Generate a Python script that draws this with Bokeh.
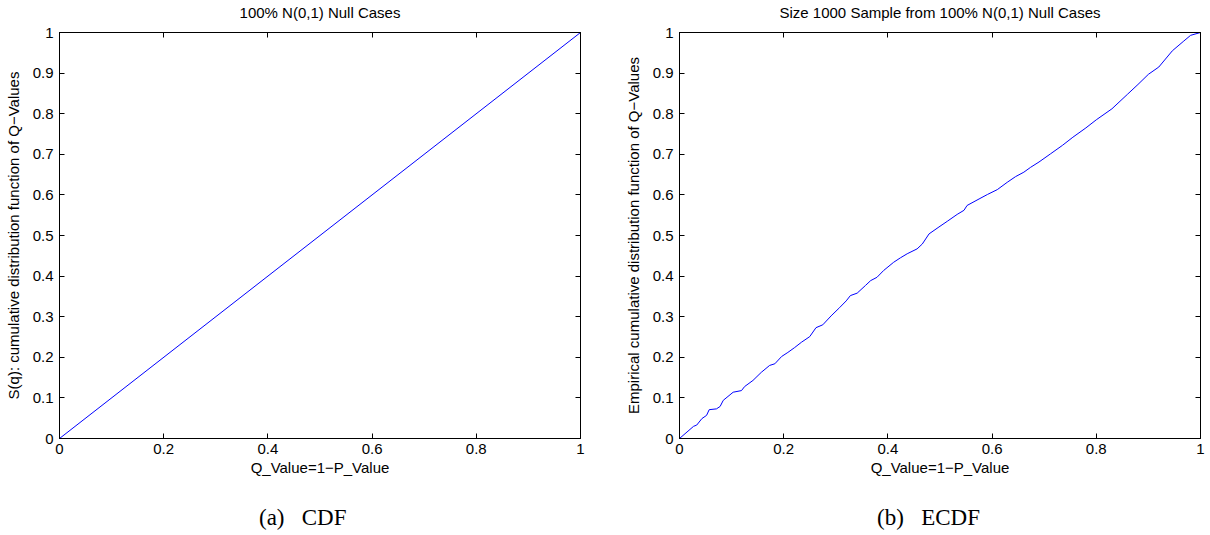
from bokeh.plotting import figure
from bokeh.layouts import row
from bokeh.models import LinearAxis, FixedTicker, Range1d
from bokeh.embed import file_html
from bokeh.resources import INLINE

# ---- data ----
x_ticks = [0, 0.2, 0.4, 0.6, 0.8, 1]
x_tick_labels = ["0", "0.2", "0.4", "0.6", "0.8", "1"]
y_ticks = [0, 0.1, 0.2, 0.3, 0.4, 0.5, 0.6, 0.7, 0.8, 0.9, 1]
y_tick_labels = ["0", "0.1", "0.2", "0.3", "0.4", "0.5", "0.6", "0.7", "0.8", "0.9", "1"]

cdf_q = [0.0, 1.0]
cdf_s = [0.0, 1.0]

ecdf_q = [0.0, 0.027, 0.033, 0.043, 0.052, 0.057, 0.071, 0.078, 0.084, 0.103, 0.119,
          0.125, 0.141, 0.157, 0.173, 0.183, 0.196, 0.208, 0.221, 0.234, 0.250,
          0.262, 0.275, 0.291, 0.307, 0.320, 0.328, 0.341, 0.357, 0.367, 0.379,
          0.392, 0.411, 0.424, 0.437, 0.456, 0.466, 0.479, 0.498, 0.514, 0.533,
          0.546, 0.552, 0.575, 0.591, 0.610, 0.629, 0.645, 0.661, 0.674, 0.690,
          0.712, 0.735, 0.755, 0.780, 0.800, 0.830, 0.860, 0.880, 0.900, 0.920,
          0.946, 0.968, 0.981, 1.0]
ecdf_s = [0.0, 0.030, 0.033, 0.049, 0.057, 0.071, 0.073, 0.079, 0.094, 0.114, 0.118,
          0.128, 0.143, 0.163, 0.180, 0.184, 0.202, 0.212, 0.224, 0.237, 0.251,
          0.273, 0.280, 0.302, 0.322, 0.339, 0.352, 0.358, 0.377, 0.389, 0.397,
          0.414, 0.434, 0.445, 0.455, 0.467, 0.479, 0.504, 0.521, 0.535, 0.552,
          0.562, 0.574, 0.590, 0.601, 0.613, 0.631, 0.645, 0.656, 0.668, 0.681,
          0.701, 0.722, 0.742, 0.765, 0.785, 0.812, 0.848, 0.872, 0.897, 0.915,
          0.955, 0.979, 0.993, 1.0]

FONT = "Liberation Sans"
SERIF = "Liberation Serif"
FS = "15px"
NB = "\u00a0"


def hide_labels(ax):
    ax.major_label_text_font_size = "1px"
    ax.major_label_text_color = None
    ax.major_label_standoff = 0
    ax.minor_tick_line_color = None
    ax.minor_tick_out = 0
    ax.minor_tick_in = 0


def make_panel(title, ylabel, caption, xs, ys, left_border, right_border):
    p = figure(width=605, height=535, output_backend="svg", toolbar_location=None,
               x_range=Range1d(0, 1), y_range=Range1d(0, 1),
               min_border_left=left_border, min_border_right=right_border,
               min_border_top=32, min_border_bottom=97,
               x_axis_label="Q_Value=1\u2212P_Value", y_axis_label=ylabel)
    p.title.visible = False
    p.grid.visible = False
    p.outline_line_color = "black"
    p.outline_line_width = 1
    p.background_fill_color = "white"
    p.border_fill_color = "white"

    for ax, ticks, labels in ((p.xaxis[0], x_ticks, x_tick_labels),
                              (p.yaxis[0], y_ticks, y_tick_labels)):
        ax.ticker = FixedTicker(ticks=ticks)
        ax.major_label_overrides = {t: l for t, l in zip(ticks, labels)}
        ax.major_tick_in = 5
        ax.major_tick_out = 0
        ax.minor_tick_line_color = None
        ax.minor_tick_out = 0
        ax.minor_tick_in = 0
        ax.axis_line_color = "black"
        ax.major_tick_line_color = "black"
        ax.major_label_text_font = FONT
        ax.major_label_text_font_size = FS
        ax.major_label_text_color = "black"
        ax.axis_label_text_font = FONT
        ax.axis_label_text_font_size = FS
        ax.axis_label_text_font_style = "normal"
        ax.axis_label_text_color = "black"
    p.xaxis.major_label_standoff = 5
    p.xaxis.axis_label_standoff = 2
    p.yaxis.major_label_standoff = 6
    p.yaxis.axis_label_standoff = 8

    # top axis: inward ticks, carries the title as its label
    top = LinearAxis(ticker=FixedTicker(ticks=x_ticks), axis_label=title)
    hide_labels(top)
    top.major_tick_in = 5
    top.major_tick_out = 0
    top.axis_line_color = "black"
    top.major_tick_line_color = "black"
    top.axis_label_text_font = FONT
    top.axis_label_text_font_size = FS
    top.axis_label_text_font_style = "normal"
    top.axis_label_text_color = "black"
    top.axis_label_standoff = 12
    p.add_layout(top, "above")

    # right axis: inward ticks only
    right = LinearAxis(ticker=FixedTicker(ticks=y_ticks))
    hide_labels(right)
    right.major_tick_in = 5
    right.major_tick_out = 0
    right.axis_line_color = "black"
    right.major_tick_line_color = "black"
    p.add_layout(right, "right")

    # caption below the x label
    cap = LinearAxis(ticker=FixedTicker(ticks=[]), axis_label=caption)
    hide_labels(cap)
    cap.major_tick_in = 0
    cap.major_tick_out = 0
    cap.axis_line_color = None
    cap.major_tick_line_color = None
    cap.axis_label_text_font = SERIF
    cap.axis_label_text_font_size = "23px"
    cap.axis_label_text_font_style = "normal"
    cap.axis_label_text_color = "black"
    cap.axis_label_standoff = 26
    p.add_layout(cap, "below")

    p.line(xs, ys, line_color="#0000ff", line_width=1)
    return p


p1 = make_panel("100% N(0,1) Null Cases",
                "S(q): cumulative distribution function of Q\u2212Values",
                "(a)" + NB * 3 + "CDF" + NB * 6, cdf_q, cdf_s, 59, 25)
p2 = make_panel("Size 1000 Sample from 100% N(0,1) Null Cases",
                "Empirical cumulative distribution function of Q\u2212Values",
                "(b)" + NB * 3 + "ECDF" + NB * 4, ecdf_q, ecdf_s, 74, 10)

layout = row(p1, p2)
open("out.html", "w").write(file_html(layout, INLINE))
